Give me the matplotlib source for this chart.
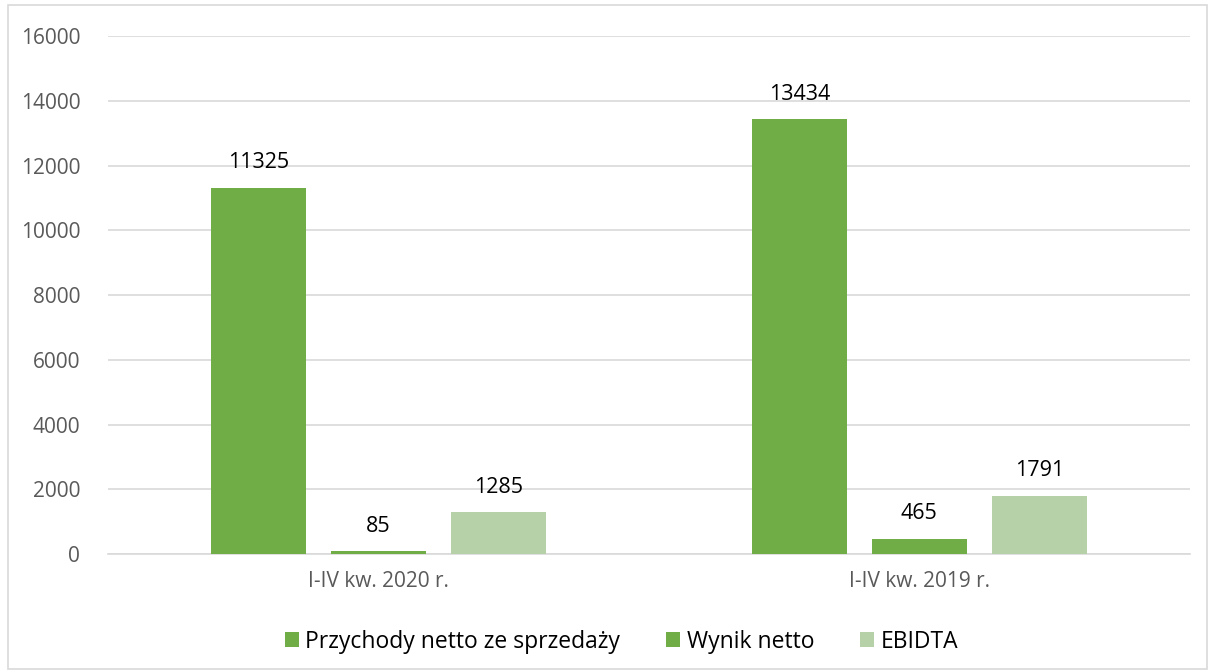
import matplotlib.pyplot as plt
import numpy as np
from matplotlib.patches import Rectangle

categories = ['I-IV kw. 2020 r.', 'I-IV kw. 2019 r.']
series_names = ['Przychody netto ze sprzedaży', 'Wynik netto', 'EBIDTA']
przychody = [11325, 13434]
wynik = [85, 465]
ebidta = [1285, 1791]
colors = ['#70AD47', '#70AD47', '#B6D0A8']

plt.rcParams['font.family'] = ['Open Sans', 'DejaVu Sans']

fig = plt.figure(figsize=(12.14, 6.72), dpi=100)
ax = fig.add_axes([0.089, 0.1756, 0.891, 0.7704])

# border round the whole chart
fig.patches.append(Rectangle((0.007, 0.004), 0.987, 0.988, transform=fig.transFigure,
                             fill=False, edgecolor='#D9D9D9', linewidth=1.2))

x = np.arange(len(categories))
w = 0.175
step = 0.222
values = [przychody, wynik, ebidta]
for i, vals in enumerate(values):
    pos = x + (i - 1) * step
    bars = ax.bar(pos, vals, w, color=colors[i], label=series_names[i], zorder=3)
    for b, v in zip(bars, vals):
        ax.text(b.get_x() + b.get_width() / 2, v + 450, str(v), ha='center', va='bottom',
                fontsize=15.5, color='black')

ax.set_xlim(-0.5, 1.5)
ax.set_ylim(0, 16000)
ax.set_yticks(range(0, 16001, 2000))
ax.set_xticks(x)
ax.set_xticklabels(categories)
ax.tick_params(axis='y', length=0, labelsize=15, labelcolor='#595959', pad=20)
ax.tick_params(axis='x', length=0, labelsize=15, labelcolor='#595959', pad=12)
ax.grid(axis='y', color='#D9D9D9', linewidth=1.2, zorder=0)
for s in ['top', 'right', 'left']:
    ax.spines[s].set_visible(False)
ax.spines['bottom'].set_color('#D9D9D9')
ax.spines['bottom'].set_linewidth(1.2)

fig.legend(loc='center', bbox_to_anchor=(0.512, 0.045), ncol=3, frameon=False,
           fontsize=16.5, handlelength=0.6, handleheight=0.6, columnspacing=2.0,
           handletextpad=0.3)

plt.savefig('out.png', dpi=100)
